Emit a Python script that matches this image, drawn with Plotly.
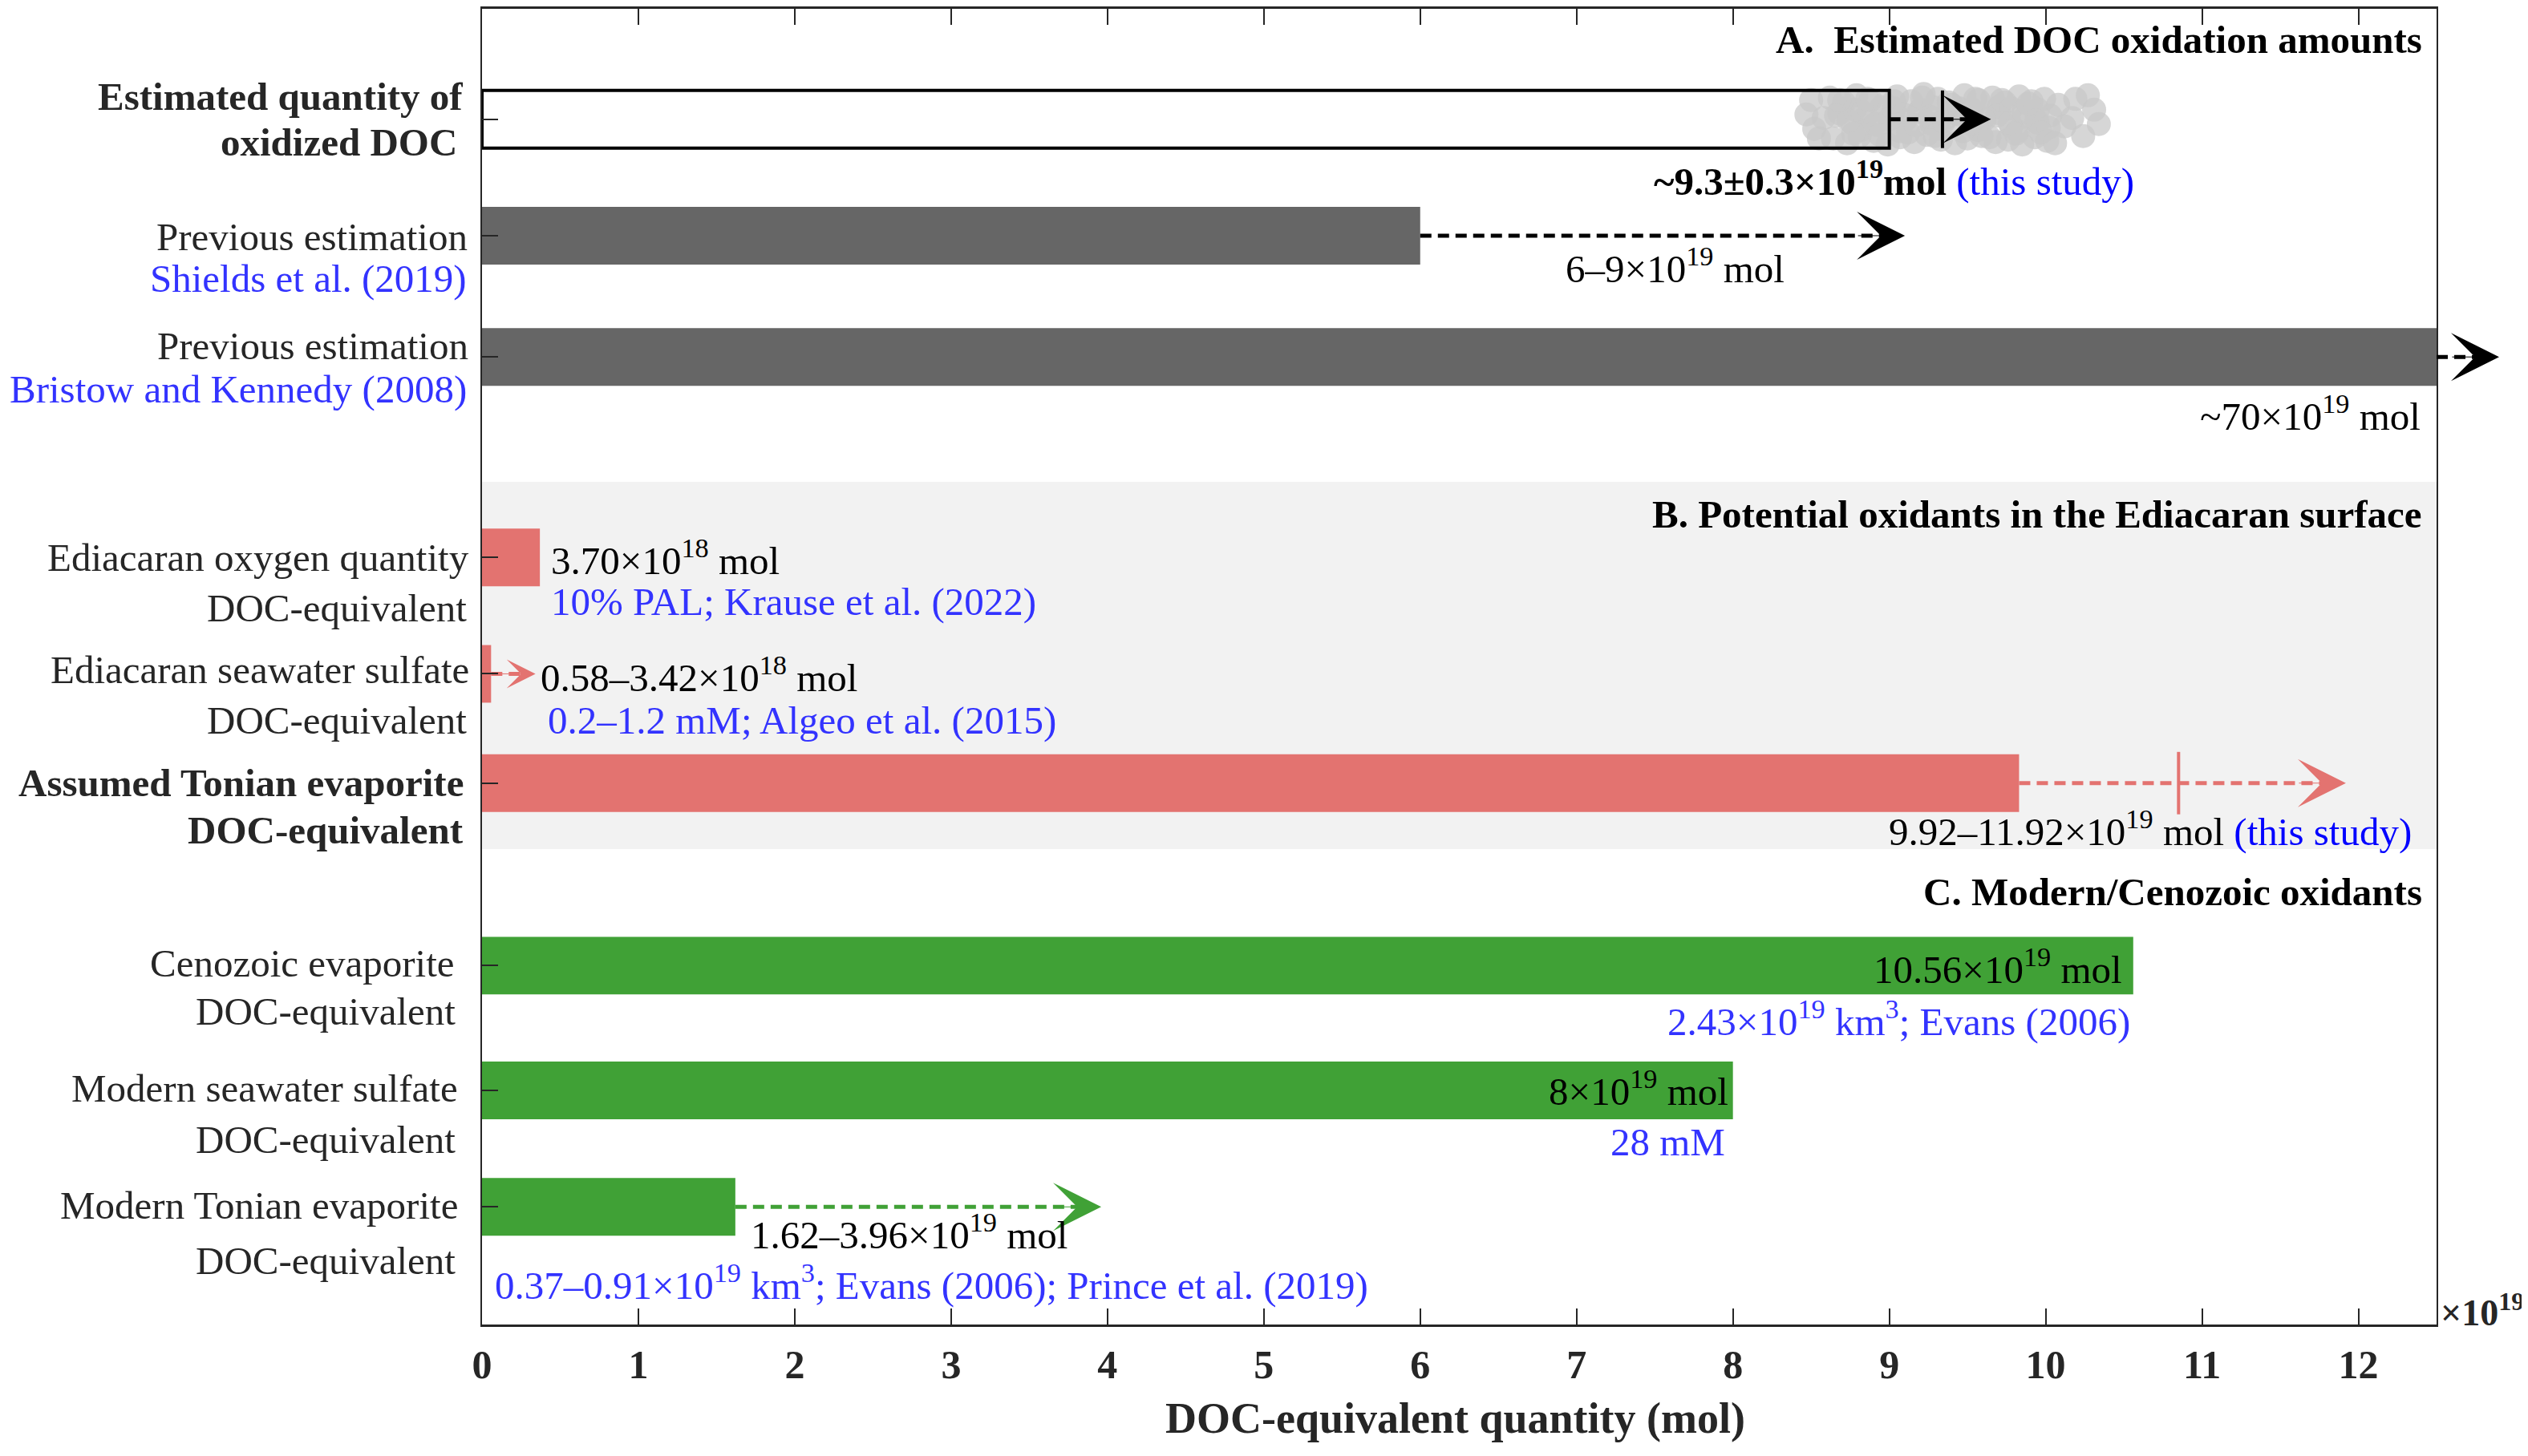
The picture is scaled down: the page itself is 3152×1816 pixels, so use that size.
import plotly.graph_objects as go

FONT = "Liberation Serif"
BLUE = "#3333ff"
PURE_BLUE = "#0000ff"
LABEL_COL = "rgb(38,38,38)"
GRAY_BAR = "rgb(102,102,102)"
RED_BAR = "rgb(227,115,112)"
GREEN_BAR = "rgb(64,161,54)"
BAND = "rgb(242,242,242)"

# --- data (x in units of 1e19 mol) ---
row_y = [0.96, 1.93, 2.94, 4.61, 5.58, 6.49, 8.01, 9.05, 10.02]

est_value = 9.0          # outlined box, oxidized DOC
est_mean = 9.34
est_arrow_end = 9.65

cloud_x = [8.62, 8.71, 8.79, 8.88, 8.97, 9.05, 9.14, 9.22, 9.31, 9.40, 9.48, 9.57, 9.66, 9.74, 9.83, 9.91, 9.99,
           8.58, 8.68, 8.76, 8.85, 8.93, 9.02, 9.10, 9.19, 9.27, 9.36, 9.44, 9.53, 9.61, 9.70, 9.78, 9.87, 9.95, 10.03,
           8.64, 8.73, 8.81, 8.90, 8.99, 9.07, 9.16, 9.24, 9.33, 9.42, 9.50, 9.59, 9.68, 9.76, 9.85, 9.93, 10.01,
           8.70, 8.95, 9.20, 9.45, 9.70, 9.95, 8.82, 9.07, 9.32, 9.57, 9.82, 8.78, 9.03, 9.28, 9.53, 9.78,
           8.66, 8.74, 8.83, 8.91, 9.00, 9.09, 9.17, 9.26, 9.35, 9.43, 9.52, 9.60, 9.69, 9.77, 9.86, 9.94, 10.02,
           8.68, 8.77, 8.86, 8.94, 9.03, 9.12, 9.21, 9.29, 9.38, 9.47, 9.55, 9.64, 9.72, 9.81, 9.89, 9.97,
           8.47, 8.52, 8.50, 8.55, 10.08, 10.12, 10.17, 10.24, 10.31, 10.06, 10.19, 10.34, 10.27]
cloud_y = [0.78, 0.82, 0.76, 0.80, 0.83, 0.77, 0.81, 0.75, 0.79, 0.84, 0.76, 0.80, 0.78, 0.82, 0.77, 0.81, 0.79,
           0.95, 0.91, 0.99, 0.94, 1.01, 0.93, 0.97, 0.90, 1.00, 0.95, 0.92, 0.98, 0.96, 0.91, 1.02, 0.94, 0.99, 0.93,
           1.12, 1.16, 1.10, 1.14, 1.17, 1.11, 1.15, 1.09, 1.13, 1.16, 1.12, 1.10, 1.15, 1.13, 1.17, 1.11, 1.14,
           0.87, 0.86, 0.88, 0.87, 0.86, 0.88, 1.05, 1.06, 1.04, 1.05, 1.06, 0.88, 0.87, 0.86, 0.88, 0.87,
           0.93, 0.97, 0.90, 1.00, 0.96, 0.92, 1.01, 0.94, 0.98, 0.91, 1.00, 0.95, 0.93, 0.99, 0.90, 0.97, 1.03,
           0.80, 1.08, 0.79, 1.09, 0.81, 1.07, 0.78, 1.10, 0.82, 1.06, 0.79, 1.11, 0.80, 1.08, 0.83, 1.07,
           0.92, 1.04, 0.80, 1.12, 0.84, 1.02, 0.95, 1.10, 0.88, 1.16, 0.79, 1.00, 0.76]

prev_values = [6.0, 70.0]            # Shields et al. 2019, Bristow & Kennedy 2008
prev_arrow_ends = [9.1, 12.9]

ediacaran_values = [0.37, 0.058, 9.83]
ediacaran_arrow_ends = [None, 0.342, 11.92]
tonian_mark = 10.85

modern_values = [10.56, 8.0, 1.62]
modern_arrow_ends = [None, None, 3.96]

x_ticks = list(range(0, 13))
X_MAX = 12.5
Y_TOP = 0.04
BAR_W = 0.48

label_top = ["<b>Estimated quantity of</b>", "Previous estimation", "Previous estimation",
             "Ediacaran oxygen quantity", "Ediacaran seawater sulfate", "<b>Assumed Tonian evaporite</b>",
             "Cenozoic evaporite", "Modern seawater sulfate", "Modern Tonian evaporite"]
label_bottom = ["<b>oxidized DOC</b>", "Shields et al. (2019)", "Bristow and Kennedy (2008)",
                "DOC-equivalent", "DOC-equivalent", "<b>DOC-equivalent</b>",
                "DOC-equivalent", "DOC-equivalent", "DOC-equivalent"]
label_bottom_blue = [False, True, True, False, False, False, False, False, False]

fig = go.Figure()

# --- section B background band ---
fig.add_shape(type="rect", xref="x", yref="y", x0=0, x1=X_MAX, y0=3.98, y1=7.04,
              fillcolor=BAND, line=dict(width=0), layer="below")

# --- bars ---
fig.add_trace(go.Bar(x=prev_values, y=row_y[1:3], orientation="h", width=BAR_W,
                     marker=dict(color=GRAY_BAR, line=dict(width=0))))
fig.add_trace(go.Bar(x=ediacaran_values, y=row_y[3:6], orientation="h", width=BAR_W,
                     marker=dict(color=RED_BAR, line=dict(width=0))))
fig.add_trace(go.Bar(x=modern_values, y=row_y[6:9], orientation="h", width=BAR_W,
                     marker=dict(color=GREEN_BAR, line=dict(width=0))))

# --- Monte Carlo cloud for this study ---
fig.add_trace(go.Scatter(x=cloud_x, y=cloud_y, mode="markers",
                         marker=dict(size=30, color="rgba(200,200,200,0.75)", line=dict(width=0))))

# outlined box for the estimated oxidized DOC
r0, h = row_y[0], BAR_W / 2
fig.add_trace(go.Scatter(x=[0, est_value, est_value, 0, 0], y=[r0 - h, r0 - h, r0 + h, r0 + h, r0 - h],
                         mode="lines", line=dict(color="black", width=4)))

# vertical marks
fig.add_trace(go.Scatter(x=[est_mean, est_mean], y=[r0 - h, r0 + h], mode="lines",
                         line=dict(color="black", width=4)))
r5 = row_y[5]
fig.add_trace(go.Scatter(x=[tonian_mark, tonian_mark], y=[r5 - h - 0.02, r5 + h + 0.02], mode="lines",
                         line=dict(color=RED_BAR, width=4)))


def add_arrow(row, x0, x1, color, size=10.0, tail=-60):
    end = min(x1 - 0.1, X_MAX)
    fig.add_trace(go.Scatter(x=[x0, end], y=[row, row], mode="lines",
                             line=dict(color=color, width=5, dash="14px,8px")))
    if x1 > X_MAX:
        # dashed stub outside the axes
        fig.add_shape(type="line", xref="paper", yref="y", x0=1.0, x1=(x1 - 0.12) / X_MAX,
                      y0=row, y1=row, line=dict(color=color, width=5, dash="14px,8px"))
        fig.add_annotation(x=x1 / X_MAX, y=row, xref="paper", yref="y", ax=tail, ay=0,
                           text="", showarrow=True, arrowhead=3, arrowsize=size,
                           arrowwidth=1, arrowcolor=color, standoff=0)
    else:
        fig.add_annotation(x=x1, y=row, xref="x", yref="y", ax=tail, ay=0,
                           text="", showarrow=True, arrowhead=3, arrowsize=size,
                           arrowwidth=1, arrowcolor=color, standoff=0)


add_arrow(row_y[0], est_value, est_arrow_end, "black")
for r, v, e in zip(row_y[1:3], prev_values, prev_arrow_ends):
    add_arrow(r, min(v, X_MAX), e, "black")
for r, v, e in zip(row_y[3:6], ediacaran_values, ediacaran_arrow_ends):
    if e is not None:
        if e < 1:
            add_arrow(r, v, e, RED_BAR, size=6.0, tail=-45)
        else:
            add_arrow(r, v, e, RED_BAR)
for r, v, e in zip(row_y[6:9], modern_values, modern_arrow_ends):
    if e is not None:
        add_arrow(r, v, e, GREEN_BAR)


def add_text(x, y, text, anchor="left", color="black", size=49, xref="x", xshift=0):
    fig.add_annotation(x=x, y=y, xref=xref, yref="y", text=text, showarrow=False,
                       xanchor=anchor, yanchor="middle", xshift=xshift,
                       font=dict(family=FONT, size=size, color=color))


# --- left row labels ---
top_y = [0.77, 1.94, 2.85, 4.61, 5.55, 6.49, 7.99, 9.03, 10.01]
bottom_y = [1.15, 2.29, 3.21, 5.03, 5.97, 6.88, 8.39, 9.46, 10.47]
top_shift = [-22, -16, -15, -14, -14, -21, -32, -28, -28]
bottom_shift = [-29, -17, -17, -17, -17, -21, -31, -31, -31]
for i in range(len(row_y)):
    add_text(0, top_y[i], label_top[i], anchor="right", color=LABEL_COL, xref="paper", xshift=top_shift[i])
    add_text(0, bottom_y[i], label_bottom[i], anchor="right",
             color=BLUE if label_bottom_blue[i] else LABEL_COL, xref="paper", xshift=bottom_shift[i])

# --- panel titles ---
add_text(12.42, 0.30, "<b>A.\u00a0 Estimated DOC oxidation amounts</b>", anchor="right")
add_text(12.42, 4.25, "<b>B. Potential oxidants in the Ediacaran surface</b>", anchor="right")
add_text(12.42, 7.40, "<b>C. Modern/Cenozoic oxidants</b>", anchor="right")

# --- value labels ---
add_text(9.03, 1.45, "<b>~9.3±0.3×10<sup>19</sup>mol</b> <span style='color:%s'>(this study)</span>" % PURE_BLUE,
         anchor="center")
add_text(7.63, 2.18, "6–9×10<sup>19</sup> mol", anchor="center")
add_text(12.41, 3.41, "~70×10<sup>19</sup> mol", anchor="right")
add_text(0.43, 4.61, "3.70×10<sup>18</sup> mol")
add_text(0.43, 4.98, "10% PAL; Krause et al. (2022)", color=BLUE)
add_text(0.365, 5.59, "0.58–3.42×10<sup>18</sup> mol")
add_text(0.41, 5.97, "0.2–1.2 mM; Algeo et al. (2015)", color=BLUE)
add_text(12.35, 6.87, "9.92–11.92×10<sup>19</sup> mol <span style='color:%s'>(this study)</span>" % PURE_BLUE,
         anchor="right")
add_text(10.5, 8.02, "10.56×10<sup>19</sup> mol", anchor="right")
add_text(10.55, 8.45, "2.43×10<sup>19</sup> km<sup>3</sup>; Evans (2006)", anchor="right", color=BLUE)
add_text(7.98, 9.03, "8×10<sup>19</sup> mol", anchor="right")
add_text(7.96, 9.48, "28 mM", anchor="right", color=BLUE)
add_text(1.71, 10.23, "1.62–3.96×10<sup>19</sup> mol")
add_text(0.07, 10.65, "0.37–0.91×10<sup>19</sup> km<sup>3</sup>; Evans (2006); Prince et al. (2019)", color=BLUE)

# axis title and exponent
fig.add_annotation(x=0.498, y=-0.071, xref="paper", yref="paper", showarrow=False,
                   text="<b>DOC-equivalent quantity (mol)</b>", xanchor="center", yanchor="middle",
                   font=dict(family=FONT, size=54, color=LABEL_COL))
fig.add_annotation(x=1.0, y=0.011, xref="paper", yref="paper", showarrow=False, xshift=3,
                   text="<b>×10<sup>19</sup></b>", xanchor="left", yanchor="middle",
                   font=dict(family=FONT, size=46, color=LABEL_COL))

fig.update_layout(
    width=3144, height=1808,
    margin=dict(l=593, r=114, t=0, b=164),
    paper_bgcolor="white", plot_bgcolor="white",
    showlegend=False, barmode="overlay",
    font=dict(family=FONT, color=LABEL_COL),
    xaxis=dict(range=[0, X_MAX], tickvals=x_ticks, ticks="inside", ticklen=20, tickwidth=2,
               tickcolor=LABEL_COL, showline=True, linecolor=LABEL_COL, linewidth=3, mirror="ticks",
               showgrid=False, zeroline=False, ticklabelstandoff=4,
               tickfont=dict(family=FONT, size=50, color=LABEL_COL, weight="bold")),
    yaxis=dict(range=[11.0, Y_TOP], tickvals=row_y, ticks="inside", ticklen=20, tickwidth=2,
               tickcolor=LABEL_COL, showticklabels=False, showline=True, linecolor=LABEL_COL,
               linewidth=2, mirror=True, showgrid=False, zeroline=False),
)

fig.write_html("out.html")
